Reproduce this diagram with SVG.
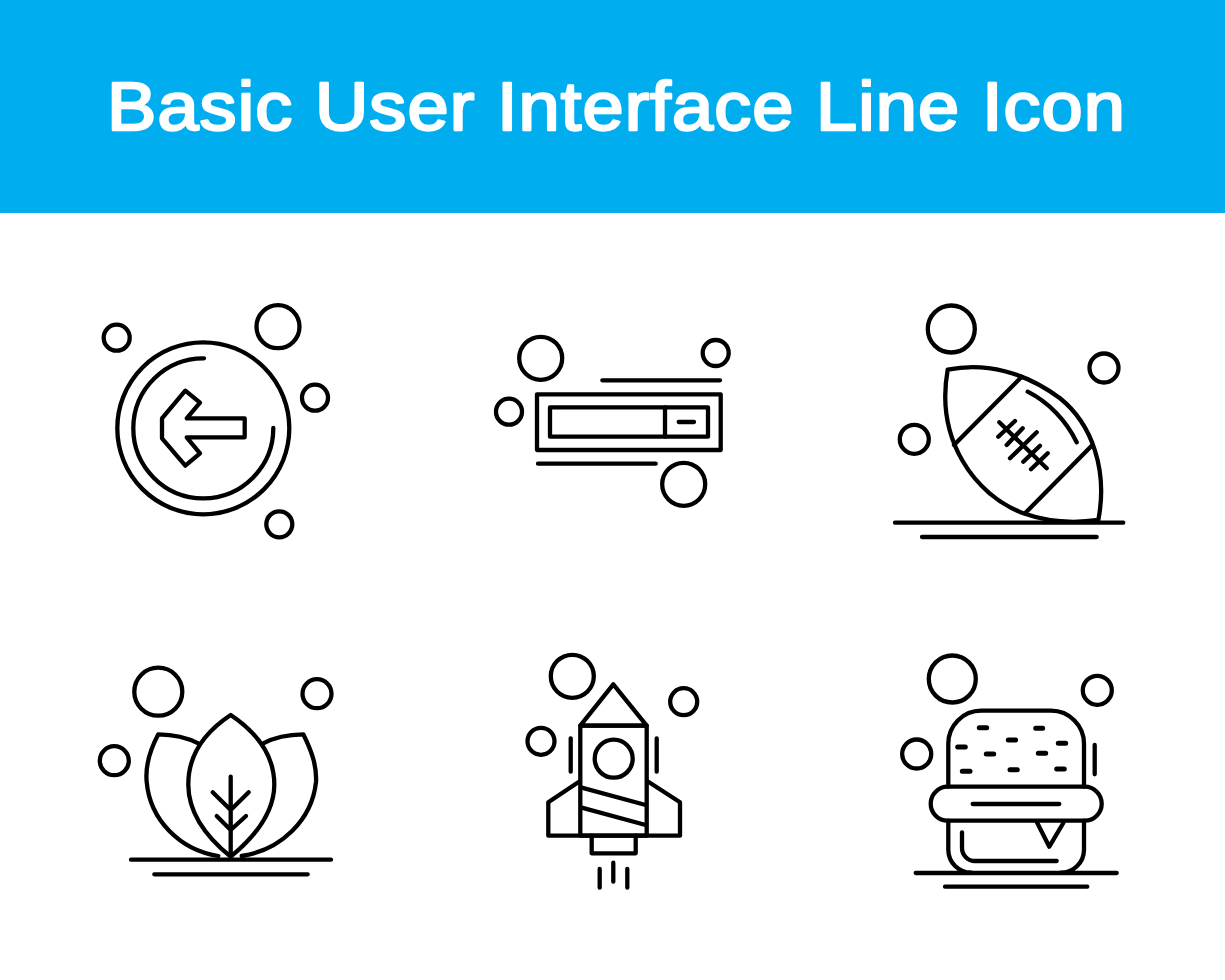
<svg xmlns="http://www.w3.org/2000/svg" width="1225" height="980" viewBox="0 0 1225 980">
<style>
.i{fill:none;stroke:#000;stroke-width:4.3;stroke-linecap:round;stroke-linejoin:round}
.s{stroke-width:5}
.t{font-family:"Liberation Sans",Arial,sans-serif;font-weight:400;font-size:68px;letter-spacing:1px;fill:#fff;stroke:#fff;stroke-width:2.4;stroke-linejoin:round}
</style>
<rect width="1225" height="980" fill="#fff"/>
<rect id="header" width="1225" height="213" fill="#00aeef"/>
<text class="t" x="107" y="130" textLength="1019" lengthAdjust="spacingAndGlyphs">Basic User Interface Line Icon</text>
<g id="icon-arrow" class="i">
<circle cx="278" cy="326.7" r="21.5"/><circle cx="116.7" cy="337.7" r="13"/><circle cx="315" cy="397.7" r="13"/><circle cx="279.3" cy="524.3" r="13"/>
<circle cx="203.3" cy="428.3" r="86"/>
<path d="M204 358.3A70 70 0 1 0 273.3 428"/>
<path d="M185.3 390.7L200 402.7L186.7 418.3H244.7V437.3H186.7L200 453.3L185.3 465.7L162 438.3V418.3Z"/>
</g>
<g id="icon-slider" class="i">
<circle cx="540.7" cy="358.3" r="21.5"/><circle cx="715.7" cy="353" r="13"/><circle cx="509" cy="411.7" r="13"/><circle cx="683.7" cy="484.3" r="21.5"/>
<path d="M602.3 380.3H720M538 463.7H655.7M665 407.3V436.7M678.7 422H694"/>
<rect x="537" y="394.3" width="183.7" height="55.7"/>
<rect x="550" y="407.3" width="158" height="29.4"/>
</g>
<g id="icon-football" class="i">
<circle cx="951.3" cy="329" r="23.5"/><circle cx="1104" cy="368" r="14.5"/><circle cx="914.3" cy="439.3" r="14.5"/>
<path d="M947.7 369.7C985 362 1025 372 1060 398.3C1092 424 1108 470 1098.3 520C1070 524 1045 521 1023.3 513.3C975 495 935 440 947.7 369.7Z"/>
<path d="M1021.7 376.7L954 445M1091.7 445.7L1025 513.3M1027.7 391.7C1048 402 1066 420 1076.7 442.3"/>
<path d="M999.3 422.3L1046.7 468.3M998.3 436.7L1015 421M1006.7 445L1022.7 428.3M1010 458.3L1036.7 432.3M1023.3 461.7L1040 445.7M1031 469.3L1047.7 453.3"/>
<path d="M895 522.7H1123.3M922 537H1096.7"/>
</g>
<g id="icon-leaf" class="i">
<circle cx="158.3" cy="691.7" r="24"/><circle cx="317" cy="693.7" r="14.5"/><circle cx="114.3" cy="760.7" r="14.5"/>
<path d="M230.7 715C205 732 188 755 188.3 785C188.5 815 210 840 230.7 856.7C251 840 274 815 274.3 785C274.5 755 256 732 230.7 715Z"/>
<path d="M198.3 743.3C186 737 172 734.5 158.3 734.3C150 750 145 765 146.7 782C150 820 180 850 218.3 856"/>
<path d="M263.3 743.3C275 737 289 734.5 303.3 734.3C311 750 317 765 316 782C312 820 281 850 241.7 856"/>
<path d="M230.7 776.7V856.7M212.7 792.3L230.7 810L248.7 792.3M216.7 816L230.7 830L246 816"/>
<path d="M131 859.7H331M154.3 874.3H307.7"/>
</g>
<g id="icon-rocket" class="i">
<circle cx="572.3" cy="676.3" r="21.5"/><circle cx="683.7" cy="701.7" r="13.5"/><circle cx="541" cy="741.3" r="13.5"/><circle cx="613.7" cy="758.7" r="19"/>
<path d="M580.3 725.7L613.3 684.3L646.7 725.7Z"/>
<path d="M580.3 725.7H646.7V835.7H580.3Z"/>
<path d="M570.7 738.3V771.7M656.7 738.3V771.7M581.7 787.7L645.7 805M581.7 807.7L645.7 825"/>
<path d="M579 781.7L548.3 802.3V835.7H680V802.3L648.3 781.7"/>
<path d="M591.7 835.7V853.3H635.7V835.7"/>
<path d="M599.7 869V887.7M613.3 862.7V881.7M627.3 869V887.7"/>
</g>
<g id="icon-burger" class="i">
<circle cx="952.3" cy="679" r="23.5"/><circle cx="1097.3" cy="690.3" r="14.5"/><circle cx="916.7" cy="754" r="14.5"/>
<path d="M948.3 786.7V744A33 33 0 0 1 981.3 710.7H1051A33 33 0 0 1 1084 744V786.7"/>
<rect x="930.7" y="786.7" width="171" height="34" rx="17"/>
<path d="M948.3 820.7V850A23 23 0 0 0 971.3 872.7M1084 820.7V850A23 23 0 0 1 1061 872.7"/>
<path d="M962 832.3V848A13 13 0 0 0 975 861H1056.7M972.7 804H1059.3M1036.7 821.7L1049.3 846.7L1063.3 823M1094.7 745V774.3"/>
<path class="s" d="M979.3 727.7H986.7M1035.7 728.3H1042.7M1008.3 740H1015.7M1058.3 743.3H1065.7M957.7 747H965.3M986.3 754H993.7M1038.3 753.3H1045.7M962.3 771.3H970M1010 769.7H1017.3M1056.7 769H1064.3"/>
<path d="M915.7 873H1116.7M945 886.7H1087.3"/>
</g>
</svg>
